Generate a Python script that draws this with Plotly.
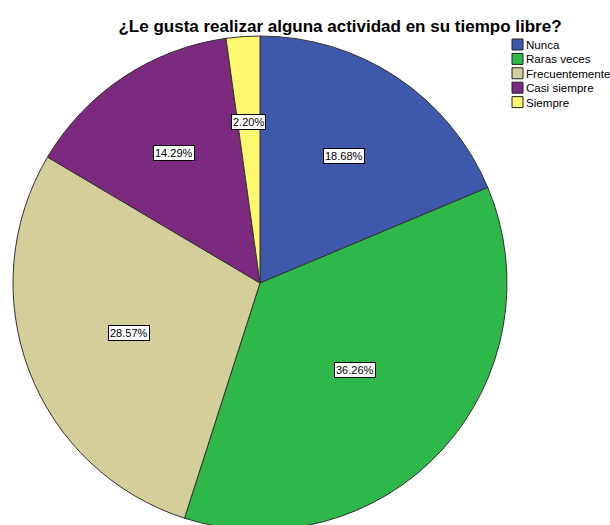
import math
import plotly.graph_objects as go

# Survey responses: "¿Le gusta realizar alguna actividad en su tiempo libre?"
categories = ["Nunca", "Raras veces", "Frecuentemente", "Casi siempre", "Siempre"]
counts = [17, 33, 26, 13, 2]
colors = ["#3E58AC", "#2EB84A", "#D4CF9A", "#7C2A7F", "#FCF870"]

W, H = 610, 566            # figure is taller than the window; the pie runs off the bottom
CX, CY, R = 260, 283, 247  # pie centre and radius in pixels
LABEL_SHRINK = 0.98        # pull labels slightly in from the slice centroid
FONT = "Liberation Sans, Arial, sans-serif"

fig = go.Figure(
    go.Pie(
        labels=categories,
        values=counts,
        marker=dict(colors=colors, line=dict(color="#333333", width=1)),
        sort=False,
        direction="clockwise",
        rotation=0,
        textinfo="none",
        hoverinfo="label+percent",
        showlegend=False,
        domain=dict(x=[(CX - R) / W, (CX + R) / W],
                    y=[1 - (CY + R) / H, 1 - (CY - R) / H]),
    )
)

# Boxed percentage labels placed at each slice's centroid
total = sum(counts)
annotations = []
cum = 0.0
for c in counts:
    frac = c / total
    half = frac * math.pi               # half the slice angle, radians
    mid = (cum + frac / 2) * 2 * math.pi
    cum += frac
    r = 2 * math.sin(half) / (3 * half) * LABEL_SHRINK
    px = CX + r * R * math.sin(mid)
    py = CY - r * R * math.cos(mid)
    annotations.append(
        dict(
            x=px / W, y=1 - py / H, xref="paper", yref="paper",
            xanchor="center", yanchor="middle",
            text=f"{frac * 100:.2f}%", showarrow=False,
            font=dict(family=FONT, size=11, color="black"),
            bgcolor="white", bordercolor="black", borderwidth=1, borderpad=1,
        )
    )

# Compact legend: outlined colour squares with category names
shapes = []
LX, LY0, LSTEP, LSZ = 512, 44.5, 14.4, 11
for i, (name, col) in enumerate(zip(categories, colors)):
    yc = LY0 + i * LSTEP
    shapes.append(
        dict(
            type="rect", xref="paper", yref="paper",
            x0=LX / W, x1=(LX + LSZ) / W,
            y0=1 - (yc + LSZ / 2) / H, y1=1 - (yc - LSZ / 2) / H,
            fillcolor=col, line=dict(color="#222222", width=1),
        )
    )
    annotations.append(
        dict(
            x=(LX + LSZ + 1) / W, y=1 - yc / H, xref="paper", yref="paper",
            xanchor="left", yanchor="middle", text=name, showarrow=False,
            font=dict(family=FONT, size=11.6, color="black"),
        )
    )

fig.update_layout(
    width=W, height=H,
    margin=dict(l=0, r=0, t=0, b=0),
    paper_bgcolor="white",
    showlegend=False,
    title=dict(
        text="<b>¿Le gusta realizar alguna actividad en su tiempo libre?</b>",
        x=340 / W, xanchor="center", y=1 - 26 / H, yanchor="middle",
        font=dict(family=FONT, size=17, color="black"),
    ),
    annotations=annotations,
    shapes=shapes,
)

fig.write_html(
    "out.html",
    post_script="document.body.style.margin='0';document.body.style.overflow='hidden';"
                "document.documentElement.style.overflow='hidden';",
)
